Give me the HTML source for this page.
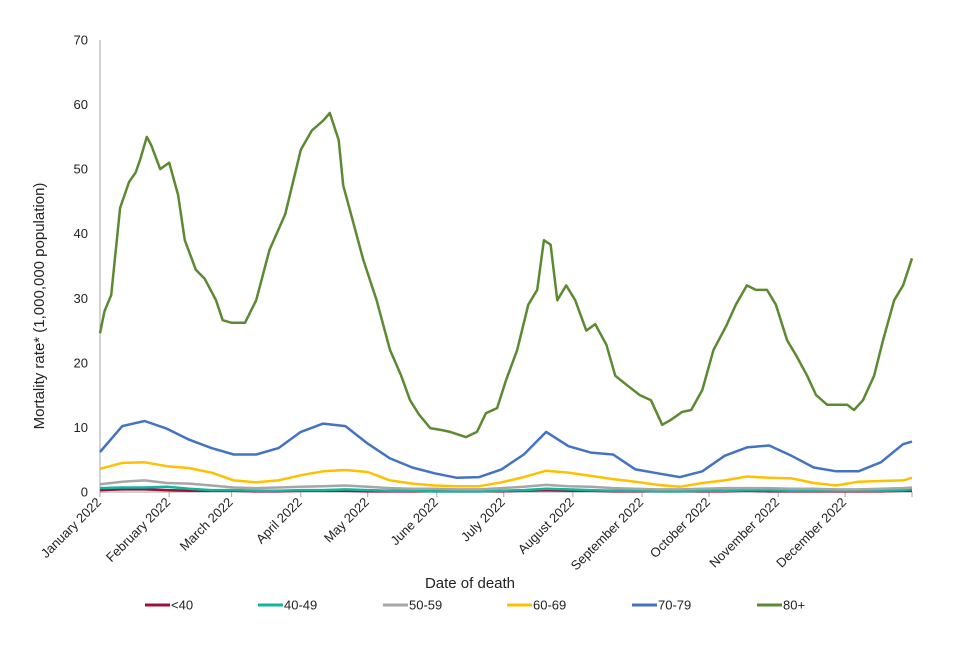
<!DOCTYPE html>
<html><head><meta charset="utf-8"><style>
body{margin:0;background:#fff;font-family:"Liberation Sans",Arial,sans-serif}
svg text{font-family:"Liberation Sans",Arial,sans-serif;fill:#222}
</style></head><body>
<svg id="chart" width="960" height="640" viewBox="0 0 960 640" xmlns="http://www.w3.org/2000/svg"></svg>
<script>
const months=["January 2022","February 2022","March 2022","April 2022","May 2022","June 2022","July 2022","August 2022","September 2022","October 2022","November 2022","December 2022"];
const monthStartDays=[0,31,59,90,120,151,181,212,243,273,304,334];
const yTicks=[0,10,20,30,40,50,60,70];
const gridDays=[0,10,20,30,40,50,60,70,80,90,100,110,120,130,140,150,160,170,180,190,200,210,220,230,240,250,260,270,280,290,300,310,320,330,340,350,360,364];
const s70=[6.2,10.2,11,9.8,8.1,6.8,5.8,5.8,6.8,9.3,10.6,10.2,7.5,5.2,3.8,2.9,2.2,2.3,3.5,5.8,9.3,7.1,6.1,5.8,3.5,2.9,2.3,3.2,5.6,6.9,7.2,5.6,3.8,3.2,3.2,4.6,7.4,7.8];
const s60=[3.6,4.5,4.6,4.0,3.7,3.0,1.8,1.5,1.8,2.6,3.2,3.4,3.1,1.8,1.3,1.0,0.9,0.9,1.5,2.3,3.3,3.0,2.5,2.0,1.6,1.1,0.8,1.4,1.8,2.4,2.2,2.1,1.4,1.0,1.6,1.7,1.8,2.2];
const s50=[1.2,1.6,1.8,1.4,1.3,1.0,0.7,0.6,0.7,0.8,0.9,1.0,0.8,0.6,0.5,0.5,0.4,0.4,0.6,0.8,1.1,0.9,0.8,0.6,0.5,0.4,0.4,0.5,0.6,0.6,0.6,0.5,0.5,0.4,0.4,0.5,0.6,0.7];
const s40=[0.6,0.7,0.7,0.8,0.5,0.3,0.3,0.2,0.2,0.3,0.3,0.4,0.3,0.2,0.2,0.1,0.1,0.1,0.2,0.3,0.5,0.4,0.3,0.2,0.2,0.1,0.1,0.2,0.2,0.3,0.3,0.2,0.2,0.2,0.2,0.2,0.3,0.4];
const sU40=[0.3,0.4,0.4,0.3,0.2,0.2,0.2,0.1,0.1,0.2,0.2,0.2,0.1,0.1,0.1,0.1,0.1,0.1,0.1,0.2,0.3,0.2,0.2,0.1,0.1,0.1,0.1,0.1,0.1,0.2,0.1,0.1,0.1,0.1,0.1,0.1,0.2,0.2];
const days80=[0,2,5,9,13,16,18,21,23,27,31,35,38,43,47,52,55,59,65,70,76,83,90,95,100,103,107,109,113,118,124,130,135,139,143,148,153,157,164,169,173,178,182,187,192,196,199,202,205,209,213,218,222,227,231,236,242,247,252,256,261,265,270,275,281,285,290,294,299,303,308,312,317,321,326,330,335,338,342,347,351,356,360,364];
const s80=[24.6,28,30.5,44,48,49.5,51.5,55,53.7,50,51,46,39,34.4,33,29.7,26.6,26.2,26.2,29.7,37.5,43,53,56,57.5,58.7,54.5,47.5,42.4,36,29.7,22,18,14.2,12,9.9,9.6,9.3,8.5,9.3,12.2,13,17.3,22,29,31.3,39,38.3,29.7,32,29.7,25,26,22.8,18,16.6,15,14.2,10.4,11.2,12.4,12.7,15.8,22,25.9,29,32,31.3,31.3,29,23.5,21.2,18,15,13.5,13.5,13.5,12.7,14.2,18,23.5,29.7,32,36.2];
const seriesNames=["<40","40-49","50-59","60-69","70-79","80+"];
const colors=["#a0103a","#12b5a0","#a6a6a6","#ffc000","#4472c4","#5b8a32"];

const NS="http://www.w3.org/2000/svg";
const svg=document.getElementById('chart');
const X0=100,X1=912,Y0=492,Y1=40;
const xs=d=>X0+(X1-X0)*d/364;
const ys=v=>Y0-(Y0-Y1)*v/70;
function mk(t,a,txt){const e=document.createElementNS(NS,t);for(const k in a)e.setAttribute(k,a[k]);if(txt!=null)e.textContent=txt;svg.appendChild(e);return e;}

yTicks.forEach(v=>{
  const t=mk('text',{x:88,y:ys(v)+4.5,'text-anchor':'end','font-size':13},v);
  
  
});
const ya=mk('line',{x1:X0,y1:Y1,x2:X0,y2:Y0,stroke:'#a6a6a6','stroke-width':1});


const xa=mk('line',{x1:X0,y1:Y0,x2:X1,y2:Y0,stroke:'#a6a6a6','stroke-width':1});


monthStartDays.concat([364]).forEach(d=>{
  const tk=mk('line',{x1:xs(d),y1:Y0,x2:xs(d),y2:Y0+5,stroke:'#a6a6a6'});
  
  
});
months.forEach((m,i)=>{
  const x=xs(monthStartDays[i]);
  const t=mk('text',{x:x+2,y:Y0+11,'text-anchor':'end','font-size':13,transform:`rotate(-45 ${x+2} ${Y0+11})`},m);
  
  
});
const yt=mk('text',{x:44,y:306,'text-anchor':'middle','font-size':15,transform:'rotate(-90 44 306)'},'Mortality rate* (1,000,000 population)');


const xt=mk('text',{x:470,y:588,'text-anchor':'middle','font-size':15},'Date of death');



const allSeries=[[gridDays,sU40],[gridDays,s40],[gridDays,s50],[gridDays,s60],[gridDays,s70],[days80,s80]];
allSeries.forEach((s,i)=>{
  const d=s[0].map((dd,j)=>(j?'L':'M')+xs(dd).toFixed(1)+' '+ys(s[1][j]).toFixed(1)).join(' ');
  const p=mk('path',{d:d,fill:'none',stroke:colors[i],'stroke-width':2.5,'stroke-linejoin':'round'});
  
  
});
const legX=[145,258,383,507,632,757];
seriesNames.forEach((n,i)=>{
  const l=mk('line',{x1:legX[i],y1:605,x2:legX[i]+25,y2:605,stroke:colors[i],'stroke-width':3});
  
  
  const t=mk('text',{x:legX[i]+26,y:609.5,'font-size':13},n);
  
  
});
</script>
</body></html>
